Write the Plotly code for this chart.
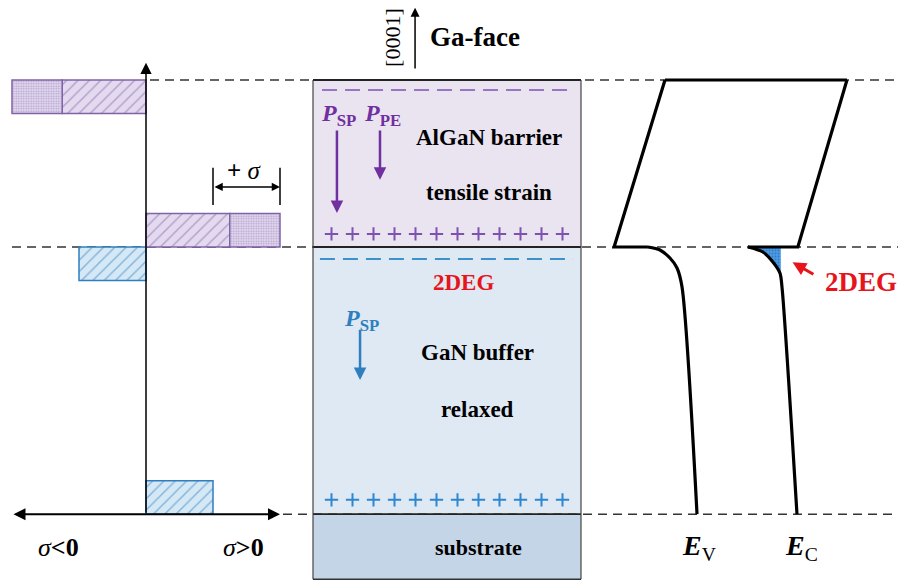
import plotly.graph_objects as go

# ---------------------------------------------------------------
# Data: layer stack, polarization sheet charges, band edges
# (depth measured downward from the AlGaN surface, arbitrary units)
# ---------------------------------------------------------------
layer_names = ["AlGaN barrier", "GaN buffer", "substrate"]
layer_top = [0.0, 5.0, 13.0]
layer_bottom = [5.0, 13.0, 14.95]
layer_fill = ["#e9e4f0", "#dfe9f3", "#c4d5e7"]

# polarization sheet charge densities (arb. units)
psp_algan = 2.5
ppe_algan = 1.5
psp_gan = 2.0
sheet_thickness = 1.0

# AlGaN band edges at surface and heterointerface (energy, arb. units)
algan_depth = [0.0, 5.0]
algan_ev = [2.21, 0.48]
algan_ec = [8.40, 6.73]

# GaN band edges with band bending near the heterointerface
gan_ev_depth = [5.0, 5.09, 5.33, 5.63, 6.20, 13.0]
gan_ev = [1.63, 2.04, 2.38, 2.62, 2.79, 3.30]
gan_ec_depth = [5.0, 5.15, 5.45, 5.78, 6.20, 13.0]
gan_ec = [5.03, 5.54, 5.88, 6.12, 6.19, 6.70]
fermi_level = 6.15

n_sheet_charges = 12

# ---------------------------------------------------------------
# Canvas geometry
# ---------------------------------------------------------------
W, H = 898, 581
DEPTH_PX, SURF_PX = 33.4, 80          # vertical scale
SIG_PX, SIG_ORIGIN = 33.5, 146        # left panel (sheet charge) scale
LAT_PX, BOX_L, BOX_R = 21.0, 313, 581  # middle panel (layer stack)
EN_PX, BAND_L = 29.4, 600             # right panel (band diagram)

SERIF = "Liberation Serif"
PURPLE_TXT = "#7030a0"
BLUE = "#2f7fbf"
RED = "#e8141b"
DASH = "9px,6px"

fig = go.Figure()

# ---------------- left panel: sheet-charge bars ----------------
purple_fill, purple_edge = "#e4daef", "#7f63a8"
blue_fill, blue_edge = "#d5e8f5", "#2f7fbf"


def sheet_bar(center, base, value, fill, edge, shape):
    pat = dict(shape=shape, fgcolor=edge, bgcolor=fill)
    if shape == "/":
        pat.update(size=8, solidity=0.18)
    else:
        pat.update(size=2.5, solidity=0.4)
    return go.Bar(
        orientation="h", y=[center], x=[value], base=[base],
        width=[sheet_thickness], xaxis="x", yaxis="y",
        marker=dict(color=fill, line=dict(color=edge, width=1.5), pattern=pat),
        showlegend=False, hoverinfo="skip",
    )


top_c = layer_top[0] + sheet_thickness / 2
int_above = layer_top[1] - sheet_thickness / 2
int_below = layer_top[1] + sheet_thickness / 2
bot_c = layer_top[2] - sheet_thickness / 2

fig.add_trace(sheet_bar(top_c, 0, -psp_algan, purple_fill, purple_edge, "/"))
fig.add_trace(sheet_bar(top_c, -psp_algan, -ppe_algan, purple_fill, purple_edge, "."))
fig.add_trace(sheet_bar(int_above, 0, psp_algan, purple_fill, purple_edge, "/"))
fig.add_trace(sheet_bar(int_above, psp_algan, ppe_algan, purple_fill, purple_edge, "."))
fig.add_trace(sheet_bar(int_below, 0, -psp_gan, blue_fill, blue_edge, "/"))
fig.add_trace(sheet_bar(bot_c, 0, psp_gan, blue_fill, blue_edge, "/"))

sig_max = psp_algan + ppe_algan

# ---------------- middle panel: layer stack ----------------
shapes = []
for top, bot, col in zip(layer_top, layer_bottom, layer_fill):
    shapes.append(dict(type="rect", xref="x2 domain", yref="y", x0=0, x1=1,
                       y0=top, y1=bot, fillcolor=col, line=dict(width=0),
                       layer="below"))

# dashed guide lines through all panels
shapes += [
    dict(type="line", xref="paper", yref="y", x0=150 / W, x1=1,
         y0=layer_top[0], y1=layer_top[0],
         line=dict(color="#333333", width=1.5, dash=DASH), layer="below"),
    dict(type="line", xref="paper", yref="y", x0=12 / W, x1=1,
         y0=layer_top[1], y1=layer_top[1],
         line=dict(color="#333333", width=1.5, dash=DASH), layer="below"),
    dict(type="line", xref="paper", yref="y", x0=283 / W, x1=1,
         y0=layer_top[2], y1=layer_top[2],
         line=dict(color="#333333", width=1.5, dash=DASH), layer="below"),
]

# layer-stack outlines
for yb in layer_top:
    shapes.append(dict(type="line", xref="x2 domain", yref="y", x0=0, x1=1,
                       y0=yb, y1=yb, line=dict(color="#222222", width=1.8)))
for xd in (0, 1):
    shapes.append(dict(type="line", xref="x2 domain", yref="y", x0=xd, x1=xd,
                       y0=layer_top[0], y1=layer_bottom[-1],
                       line=dict(color="#444444", width=1.2)))
shapes.append(dict(type="line", xref="x2 domain", yref="y", x0=0, x1=1,
                   y0=layer_bottom[-1], y1=layer_bottom[-1],
                   line=dict(color="#333333", width=1.5)))

# +sigma dimension ticks
for s in (psp_gan, sig_max):
    shapes.append(dict(type="line", xref="x", yref="y", x0=s, x1=s,
                       y0=2.63, y1=3.74, line=dict(color="black", width=1.5)))

box_w = (BOX_R - BOX_L) / LAT_PX
mid = box_w / 2
charge_x = [mid + (i - (n_sheet_charges - 1) / 2) for i in range(n_sheet_charges)]

# sheet charge symbols
fig.add_trace(go.Scatter(x=[0.43, box_w - 0.38], y=[0.30, 0.30], xaxis="x2", yaxis="y",
                         mode="lines", line=dict(color="#9a74c4", width=2, dash="15px,8px"),
                         showlegend=False, hoverinfo="skip"))
fig.add_trace(go.Scatter(x=[0.33, box_w - 0.38], y=[5.36, 5.36], xaxis="x2", yaxis="y",
                         mode="lines", line=dict(color="#3d93c9", width=2, dash="15px,8px"),
                         showlegend=False, hoverinfo="skip"))
fig.add_trace(go.Scatter(x=charge_x, y=[4.61] * n_sheet_charges, xaxis="x2", yaxis="y",
                         mode="markers",
                         marker=dict(symbol="cross-thin", size=9.5,
                                     line=dict(width=2, color="#7e52b0")),
                         showlegend=False, hoverinfo="skip"))
fig.add_trace(go.Scatter(x=charge_x, y=[12.57] * n_sheet_charges, xaxis="x2", yaxis="y",
                         mode="markers",
                         marker=dict(symbol="cross-thin", size=9.5,
                                     line=dict(width=2, color="#2e86d0")),
                         showlegend=False, hoverinfo="skip"))

# ---------------- right panel: band diagram ----------------
# 2DEG: region of the GaN conduction band below the Fermi level
fill_x, fill_y = [], []
for i in range(len(gan_ec) - 1):
    e0, e1 = gan_ec[i], gan_ec[i + 1]
    d0, d1 = gan_ec_depth[i], gan_ec_depth[i + 1]
    fill_x.append(e0)
    fill_y.append(d0)
    if e1 >= fermi_level:
        t = (fermi_level - e0) / (e1 - e0)
        fill_x.append(fermi_level)
        fill_y.append(d0 + t * (d1 - d0))
        break
fill_x += [fermi_level, gan_ec[0]]
fill_y += [gan_ec_depth[0], gan_ec_depth[0]]
fig.add_trace(go.Scatter(x=fill_x, y=fill_y, xaxis="x3", yaxis="y", mode="lines",
                         fill="toself", fillcolor="#3f8fdc", line=dict(width=0),
                         fillpattern=dict(shape=".", fgcolor="#1d5e9e", bgcolor="#4a9be6",
                                          size=3, solidity=0.35),
                         showlegend=False, hoverinfo="skip"))

band_line = dict(color="black", width=3.2)
# top edge of AlGaN
fig.add_trace(go.Scatter(x=[algan_ev[0], algan_ec[0]], y=[algan_depth[0]] * 2,
                         xaxis="x3", yaxis="y", mode="lines", line=band_line,
                         showlegend=False, hoverinfo="skip"))
# valence band: AlGaN slope, offset step, GaN bending
fig.add_trace(go.Scatter(x=algan_ev + [gan_ev[0]], y=algan_depth + [gan_ev_depth[0]],
                         xaxis="x3", yaxis="y", mode="lines", line=band_line,
                         showlegend=False, hoverinfo="skip"))
fig.add_trace(go.Scatter(x=gan_ev, y=gan_ev_depth, xaxis="x3", yaxis="y", mode="lines",
                         line=dict(color="black", width=3.2, shape="spline", smoothing=0.8),
                         showlegend=False, hoverinfo="skip"))
# conduction band
fig.add_trace(go.Scatter(x=algan_ec + [gan_ec[0]], y=algan_depth + [gan_ec_depth[0]],
                         xaxis="x3", yaxis="y", mode="lines", line=band_line,
                         showlegend=False, hoverinfo="skip"))
fig.add_trace(go.Scatter(x=gan_ec, y=gan_ec_depth, xaxis="x3", yaxis="y", mode="lines",
                         line=dict(color="black", width=3.2, shape="spline", smoothing=0.8),
                         showlegend=False, hoverinfo="skip"))


# ---------------- annotations ----------------
def label(text, x, y, xref, size, color="black", **kw):
    return dict(text=text, x=x, y=y, xref=xref, yref="y", showarrow=False,
                font=dict(family=SERIF, size=size, color=color), **kw)


def arrow(x0, y0, x1, y1, xref, color, width, size=1.0, side="end", head=2):
    return dict(x=x1, y=y1, ax=x0, ay=y0, xref=xref, yref="y", axref=xref, ayref="y",
                text="", showarrow=True, arrowhead=head, startarrowhead=head,
                arrowsize=size, startarrowsize=size, arrowwidth=width,
                arrowcolor=color, arrowside=side, standoff=0, startstandoff=0)


ann = []
# left panel axes
ann.append(arrow(0, layer_top[2], 0, -0.52, "x", "black", 1.5, size=1.5))
ann.append(arrow(-sig_max, layer_top[2], sig_max, layer_top[2], "x", "black", 2,
                 size=1.2, side="end+start"))
ann.append(arrow(psp_gan, 3.2, sig_max, 3.2, "x", "black", 1.5, size=1.1,
                 side="end+start"))
ann.append(label("<b>+</b> <i>σ</i>", 2.95, 2.72, "x", 25))
ann.append(label("<i>σ</i><b>&lt;0</b>", -2.6, 14.0, "x", 26))
ann.append(label("<i>σ</i><b>&gt;0</b>", 2.9, 14.0, "x", 26))

# middle panel
ann.append(label("<b>Ga-face</b>", 7.71, -1.28, "x2", 27))
ann.append(label("[0001]", 3.81, -1.26, "x2", 22, textangle=-90))
ann.append(arrow(4.86, -0.30, 4.86, -2.16, "x2", "black", 1.5, size=1.2))

ann.append(label("<b><i>P</i><sub>SP</sub></b>", 1.2, 1.05, "x2", 24, PURPLE_TXT))
ann.append(label("<b><i>P</i><sub>PE</sub></b>", 3.3, 1.05, "x2", 24, PURPLE_TXT))
ann.append(arrow(1.14, 1.47, 1.14, 3.98, "x2", PURPLE_TXT, 2.5, size=1.0))
ann.append(arrow(3.19, 1.47, 3.19, 2.99, "x2", PURPLE_TXT, 2.5, size=1.0))
ann.append(label("<b>" + layer_names[0] + "</b>", 8.38, 1.71, "x2", 23))
ann.append(label("<b>tensile strain</b>", 8.38, 3.38, "x2", 23))

ann.append(label("<b>2DEG</b>", 7.19, 6.05, "x2", 23, RED))
ann.append(label("<b><i>P</i><sub>SP</sub></b>", 2.3, 7.19, "x2", 24, BLUE))
ann.append(arrow(2.24, 7.43, 2.24, 8.98, "x2", BLUE, 2.5, size=1.0))
ann.append(label("<b>" + layer_names[1] + "</b>", 7.81, 8.17, "x2", 23))
ann.append(label("<b>relaxed</b>", 7.81, 9.88, "x2", 23))
ann.append(label("<b>" + layer_names[2] + "</b>", 7.86, 14.01, "x2", 22))

# right panel
ann.append(label("<b><i>E</i></b><sub>V</sub>", 3.38, 14.0, "x3", 28))
ann.append(label("<b><i>E</i></b><sub>C</sub>", 6.85, 14.0, "x3", 28))
ann.append(label("<b>2DEG</b>", 8.88, 6.05, "x3", 27, RED))
ann.append(arrow(7.31, 5.84, 6.55, 5.46, "x3", RED, 3, size=0.9))

hidden = dict(visible=False, showgrid=False, zeroline=False, fixedrange=True)
fig.update_layout(
    width=W, height=H,
    margin=dict(l=0, r=0, t=0, b=0),
    paper_bgcolor="white", plot_bgcolor="rgba(0,0,0,0)",
    font=dict(family=SERIF, color="black"),
    barmode="overlay",
    shapes=shapes,
    annotations=ann,
    xaxis=dict(domain=[0, 300 / W],
               range=[(0 - SIG_ORIGIN) / SIG_PX, (300 - SIG_ORIGIN) / SIG_PX], **hidden),
    xaxis2=dict(domain=[BOX_L / W, BOX_R / W], range=[0, box_w], anchor="y", **hidden),
    xaxis3=dict(domain=[BAND_L / W, 1], range=[0, (W - BAND_L) / EN_PX], anchor="y", **hidden),
    yaxis=dict(domain=[0, 1], range=[(H - SURF_PX) / DEPTH_PX, -SURF_PX / DEPTH_PX], **hidden),
    showlegend=False,
)

fig.write_html("out.html")
